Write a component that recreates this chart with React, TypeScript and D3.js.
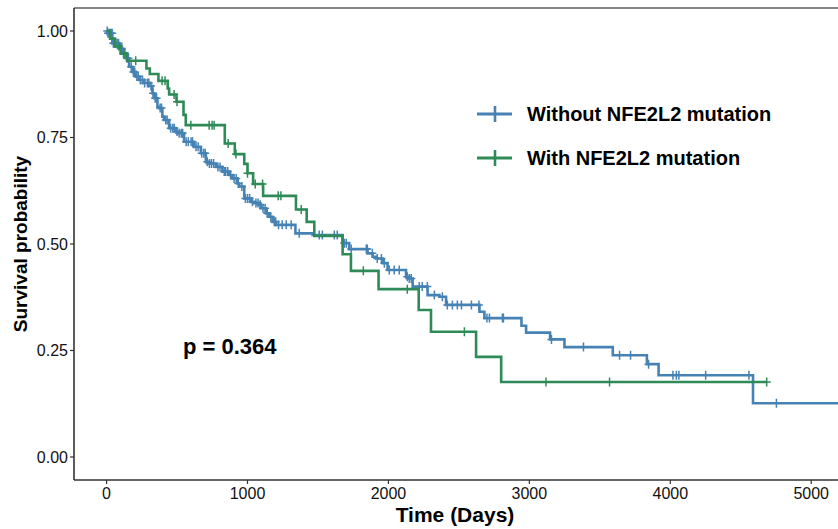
import React from 'react';
import * as d3 from 'd3';

// Kaplan-Meier steps: time (days) and survival after the step
const withoutTimes = [0, 6, 41, 89, 112, 136, 160, 183, 207, 231, 266, 302, 325, 337, 361, 373, 396, 408, 444, 491, 503, 550, 621, 669, 705, 728, 776, 822, 870, 893, 929, 941, 977, 1024, 1048, 1083, 1095, 1131, 1154, 1178, 1202, 1340, 1462, 1675, 1722, 1852, 1888, 1912, 1959, 1994, 2125, 2148, 2172, 2278, 2362, 2409, 2646, 2681, 2944, 2977, 3147, 3249, 3592, 3834, 3917, 4587, 5300];
const withoutSurv = [1, 0.995, 0.971, 0.959, 0.948, 0.936, 0.916, 0.904, 0.893, 0.885, 0.878, 0.871, 0.854, 0.842, 0.822, 0.819, 0.799, 0.791, 0.772, 0.764, 0.76, 0.74, 0.728, 0.713, 0.693, 0.689, 0.681, 0.67, 0.662, 0.654, 0.642, 0.635, 0.607, 0.599, 0.596, 0.592, 0.584, 0.572, 0.564, 0.552, 0.545, 0.525, 0.521, 0.502, 0.488, 0.478, 0.47, 0.466, 0.455, 0.439, 0.423, 0.419, 0.4, 0.38, 0.376, 0.357, 0.341, 0.326, 0.308, 0.292, 0.276, 0.258, 0.239, 0.218, 0.192, 0.126, 0.126];
const withoutCensored = [5, 10, 18, 25, 32, 40, 48, 55, 65, 75, 85, 100, 108, 120, 130, 145, 155, 175, 190, 200, 215, 225, 240, 255, 270, 290, 300, 315, 330, 345, 355, 380, 390, 420, 430, 455, 470, 480, 500, 515, 530, 540, 565, 580, 600, 610, 635, 650, 675, 690, 700, 715, 730, 745, 760, 790, 805, 835, 845, 860, 880, 905, 920, 935, 960, 985, 1000, 1015, 1035, 1060, 1075, 1090, 1110, 1125, 1140, 1165, 1190, 1200, 1220, 1246, 1275, 1310, 1367, 1509, 1531, 1616, 1637, 1687, 1701, 1736, 1843, 1850, 1886, 1921, 1950, 1971, 2006, 2041, 2077, 2134, 2148, 2162, 2219, 2240, 2276, 2326, 2383, 2418, 2454, 2489, 2518, 2589, 2642, 2699, 2717, 2809, 2816, 3157, 3384, 3640, 3718, 3846, 4019, 4043, 4061, 4251, 4558, 4753];

const withTimes = [0, 25, 60, 100, 145, 283, 307, 368, 434, 444, 496, 546, 562, 839, 910, 977, 1000, 1040, 1111, 1344, 1420, 1474, 1675, 1734, 1930, 2215, 2302, 2622, 2800, 4684];
const withSurv = [1, 0.982, 0.964, 0.947, 0.93, 0.912, 0.899, 0.883, 0.865, 0.851, 0.834, 0.803, 0.779, 0.736, 0.711, 0.688, 0.666, 0.641, 0.613, 0.581, 0.552, 0.519, 0.476, 0.437, 0.394, 0.345, 0.294, 0.235, 0.176, 0.176];
const withCensored = [89, 124, 207, 394, 415, 479, 500, 598, 728, 749, 763, 863, 918, 1000, 1055, 1107, 1218, 1237, 1381, 1822, 2134, 2539, 3118, 3569, 4684];

const xTicks = [0, 1000, 2000, 3000, 4000, 5000];
const yTicks = [0, 0.25, 0.5, 0.75, 1];
const groups = ['Without NFE2L2 mutation', 'With NFE2L2 mutation'];
const colors = ['#4682B4', '#2E8B57'];
const pLabel = 'p = 0.364';

const W = 838;
const H = 529;
const left = 74;
const top = 8;
const bottom = 480;

export default function App() {
  const x = d3.scaleLinear().domain([-231, 5190]).range([left, W]);
  const y = d3.scaleLinear().domain([-0.054, 1.054]).range([bottom, top]);

  const line = d3.line<[number, number]>()
    .x(d => x(d[0]))
    .y(d => y(d[1]))
    .curve(d3.curveStepAfter);

  const series = [
    { times: withoutTimes, surv: withoutSurv, cens: withoutCensored },
    { times: withTimes, surv: withSurv, cens: withCensored },
  ];

  const survAt = (times: number[], surv: number[], t: number) => {
    const i = d3.bisectRight(times, t) - 1;
    return surv[Math.max(0, i)];
  };

  const font = 'Liberation Sans, Arial, sans-serif';

  return (
    <svg width={W} height={H} style={{ display: 'block', fontFamily: font }}>
      <style>{`body{margin:0}`}</style>
      <defs>
        <clipPath id="plot">
          <rect x={left} y={top} width={W - left} height={bottom - top} />
        </clipPath>
      </defs>
      <rect x={0} y={0} width={W} height={H} fill="#fff" />

      <g clipPath="url(#plot)">
        {series.map((s, k) => (
          <g key={k}>
            <path
              d={line(s.times.map((t, i) => [t, s.surv[i]] as [number, number])) || ''}
              fill="none"
              stroke={colors[k]}
              strokeWidth={2.6}
            />
            {s.cens.map((t, i) => {
              const cx = x(t);
              const cy = y(survAt(s.times, s.surv, t));
              return (
                <path
                  key={i}
                  d={`M${cx - 4},${cy}H${cx + 4}M${cx},${cy - 4.5}V${cy + 4.5}`}
                  stroke={colors[k]}
                  strokeWidth={1.5}
                />
              );
            })}
          </g>
        ))}
      </g>

      {/* panel border and axes */}
      <line x1={left} x2={W} y1={top} y2={top} stroke="#111" strokeWidth={1.2} />
      <line x1={left} x2={left} y1={top} y2={bottom} stroke="#333" strokeWidth={1.6} />
      <line x1={left} x2={W} y1={bottom} y2={bottom} stroke="#333" strokeWidth={1.6} />

      {yTicks.map(v => (
        <g key={v}>
          <line x1={left - 4} x2={left} y1={y(v)} y2={y(v)} stroke="#333" strokeWidth={1.2} />
          <text x={left - 6} y={y(v)} dy="0.36em" textAnchor="end" fontSize={16} fill="#111">
            {d3.format('.2f')(v)}
          </text>
        </g>
      ))}
      {xTicks.map(v => (
        <g key={v}>
          <line x1={x(v)} x2={x(v)} y1={bottom} y2={bottom + 4} stroke="#333" strokeWidth={1.2} />
          <text x={x(v)} y={bottom + 19} textAnchor="middle" fontSize={16} fill="#111">
            {v}
          </text>
        </g>
      ))}

      <text x={455} y={522} textAnchor="middle" fontSize={21} fontWeight="bold" fill="#000">
        Time (Days)
      </text>
      <text
        transform={`translate(27,${(top + bottom) / 2}) rotate(-90)`}
        textAnchor="middle"
        fontSize={19}
        fontWeight="bold"
        fill="#000"
      >
        Survival probability
      </text>

      <text x={183} y={354} fontSize={22} fontWeight="bold" fill="#000">{pLabel}</text>

      {groups.map((g, k) => {
        const ly = 114 + k * 44;
        return (
          <g key={g}>
            <line x1={477} x2={512} y1={ly} y2={ly} stroke={colors[k]} strokeWidth={2.8} />
            <path d={`M495,${ly - 8}V${ly + 8}`} stroke={colors[k]} strokeWidth={2.6} />
            <text x={527} y={ly} dy="0.36em" fontSize={20} fontWeight="bold" fill="#000">{g}</text>
          </g>
        );
      })}
    </svg>
  );
}
